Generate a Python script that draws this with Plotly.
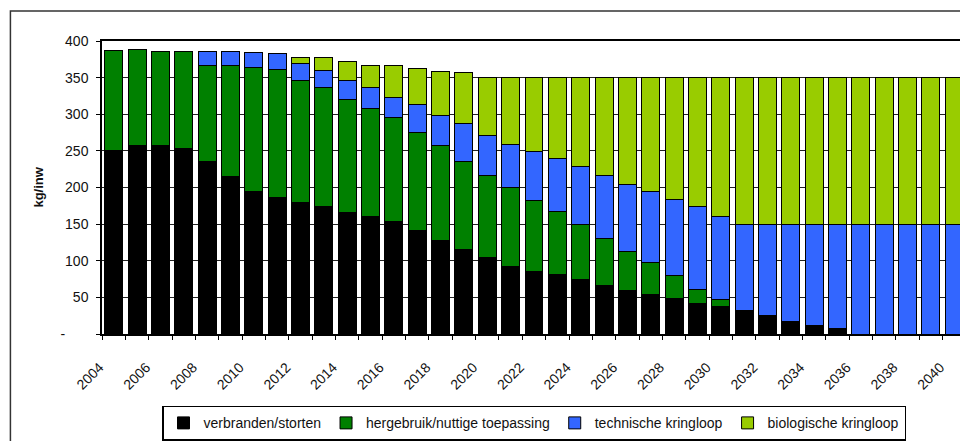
import plotly.graph_objects as go

# Data (kg per inhabitant)
years = list(range(2004, 2041))
verbranden = [250, 258, 258, 253, 235, 215, 194, 186, 179, 174, 166, 160, 153, 141,
              128, 115, 104, 92, 86, 81, 74, 66, 60, 54, 48, 42, 38, 32, 25, 17, 12,
              7, 0, 0, 0, 0, 0]
hergebruik = [137, 131, 127, 132, 132, 152, 170, 175, 167, 162, 154, 148, 142, 134,
              129, 121, 112, 108, 96, 86, 75, 65, 52, 44, 32, 19, 9, 0, 0, 0, 0,
              0, 0, 0, 0, 0, 0]
technisch = [0, 0, 0, 0, 18, 18, 20, 22, 23, 24, 26, 28, 28, 38, 41, 51, 55, 59, 67,
             72, 79, 85, 92, 96, 104, 113, 114, 118, 125, 133, 138, 143, 150, 150,
             150, 150, 150]
biologisch = [0, 0, 0, 0, 0, 0, 0, 0, 8, 17, 26, 31, 44, 49, 61, 70, 79, 91, 101,
              111, 122, 134, 146, 156, 166, 176, 189, 200, 200, 200, 200, 200, 200,
              200, 200, 200, 200]

series = [
    ("verbranden/storten", verbranden, "#000000"),
    ("hergebruik/nuttige toepassing", hergebruik, "#008000"),
    ("technische kringloop", technisch, "#3366FF"),
    ("biologische kringloop", biologisch, "#99CC00"),
]

y_ticks = [0, 50, 100, 150, 200, 250, 300, 350, 400]
y_ticktext = ["-" + "\u00a0" * 6, "50", "100", "150", "200", "250", "300", "350", "400"]
x_ticks = list(range(2004, 2041, 2))

FONT = "Arial, Liberation Sans, sans-serif"

fig = go.Figure()
for name, vals, color in series:
    fig.add_trace(
        go.Bar(
            x=years,
            y=vals,
            name=name,
            marker=dict(color=color, line=dict(color="#000000", width=1)),
        )
    )

# page body has an 8px margin, so the figure is 8px smaller each way
fig.update_layout(
    width=960,
    height=433,
    barmode="stack",
    bargap=0.23,
    plot_bgcolor="white",
    paper_bgcolor="white",
    margin=dict(l=94, r=0, t=33, b=106),
    font=dict(family=FONT, size=14, color="#111111"),
    showlegend=True,
    legend=dict(
        orientation="h",
        x=0.5,
        xanchor="center",
        y=-0.245,
        yanchor="top",
        traceorder="normal",
        bordercolor="#000000",
        borderwidth=1.5,
        font=dict(size=14, color="#111111"),
        itemwidth=30,
    ),
    xaxis=dict(
        range=[2003.5, 2040.5],
        tickvals=x_ticks,
        tickangle=-45,
        ticks="outside",
        ticklen=4,
        tickcolor="rgba(0,0,0,0)",
        ticklabelstandoff=14,
        ticklabelshift=-14,
        minor=dict(ticks="outside", ticklen=4, tick0=2003.5, dtick=1,
                   tickcolor="#000000", showgrid=False),
        showgrid=False,
        showline=True,
        linecolor="#000000",
        linewidth=1.5,
        mirror=True,
        tickfont=dict(size=14),
    ),
    yaxis=dict(
        range=[0, 400],
        tickvals=y_ticks,
        ticktext=y_ticktext,
        ticks="outside",
        ticklen=4,
        tickcolor="#000000",
        ticklabelstandoff=5,
        showgrid=True,
        gridcolor="#222222",
        gridwidth=1,
        showline=True,
        linecolor="#000000",
        linewidth=1.5,
        mirror=True,
        zeroline=False,
        tickfont=dict(size=14),
    ),
    annotations=[
        dict(
            text="<b>kg/inw</b>",
            xref="paper",
            yref="paper",
            x=-0.074,
            xanchor="center",
            y=0.5,
            yanchor="middle",
            textangle=-90,
            showarrow=False,
            font=dict(size=13, color="#111111"),
        )
    ],
    shapes=[
        dict(
            type="rect",
            xref="paper",
            yref="paper",
            x0=-0.106,
            x1=1.05,
            y0=-0.4,
            y1=1.102,
            line=dict(color="#333333", width=1.5),
            fillcolor="rgba(0,0,0,0)",
            layer="below",
        )
    ],
)

fig.write_html("out.html")
